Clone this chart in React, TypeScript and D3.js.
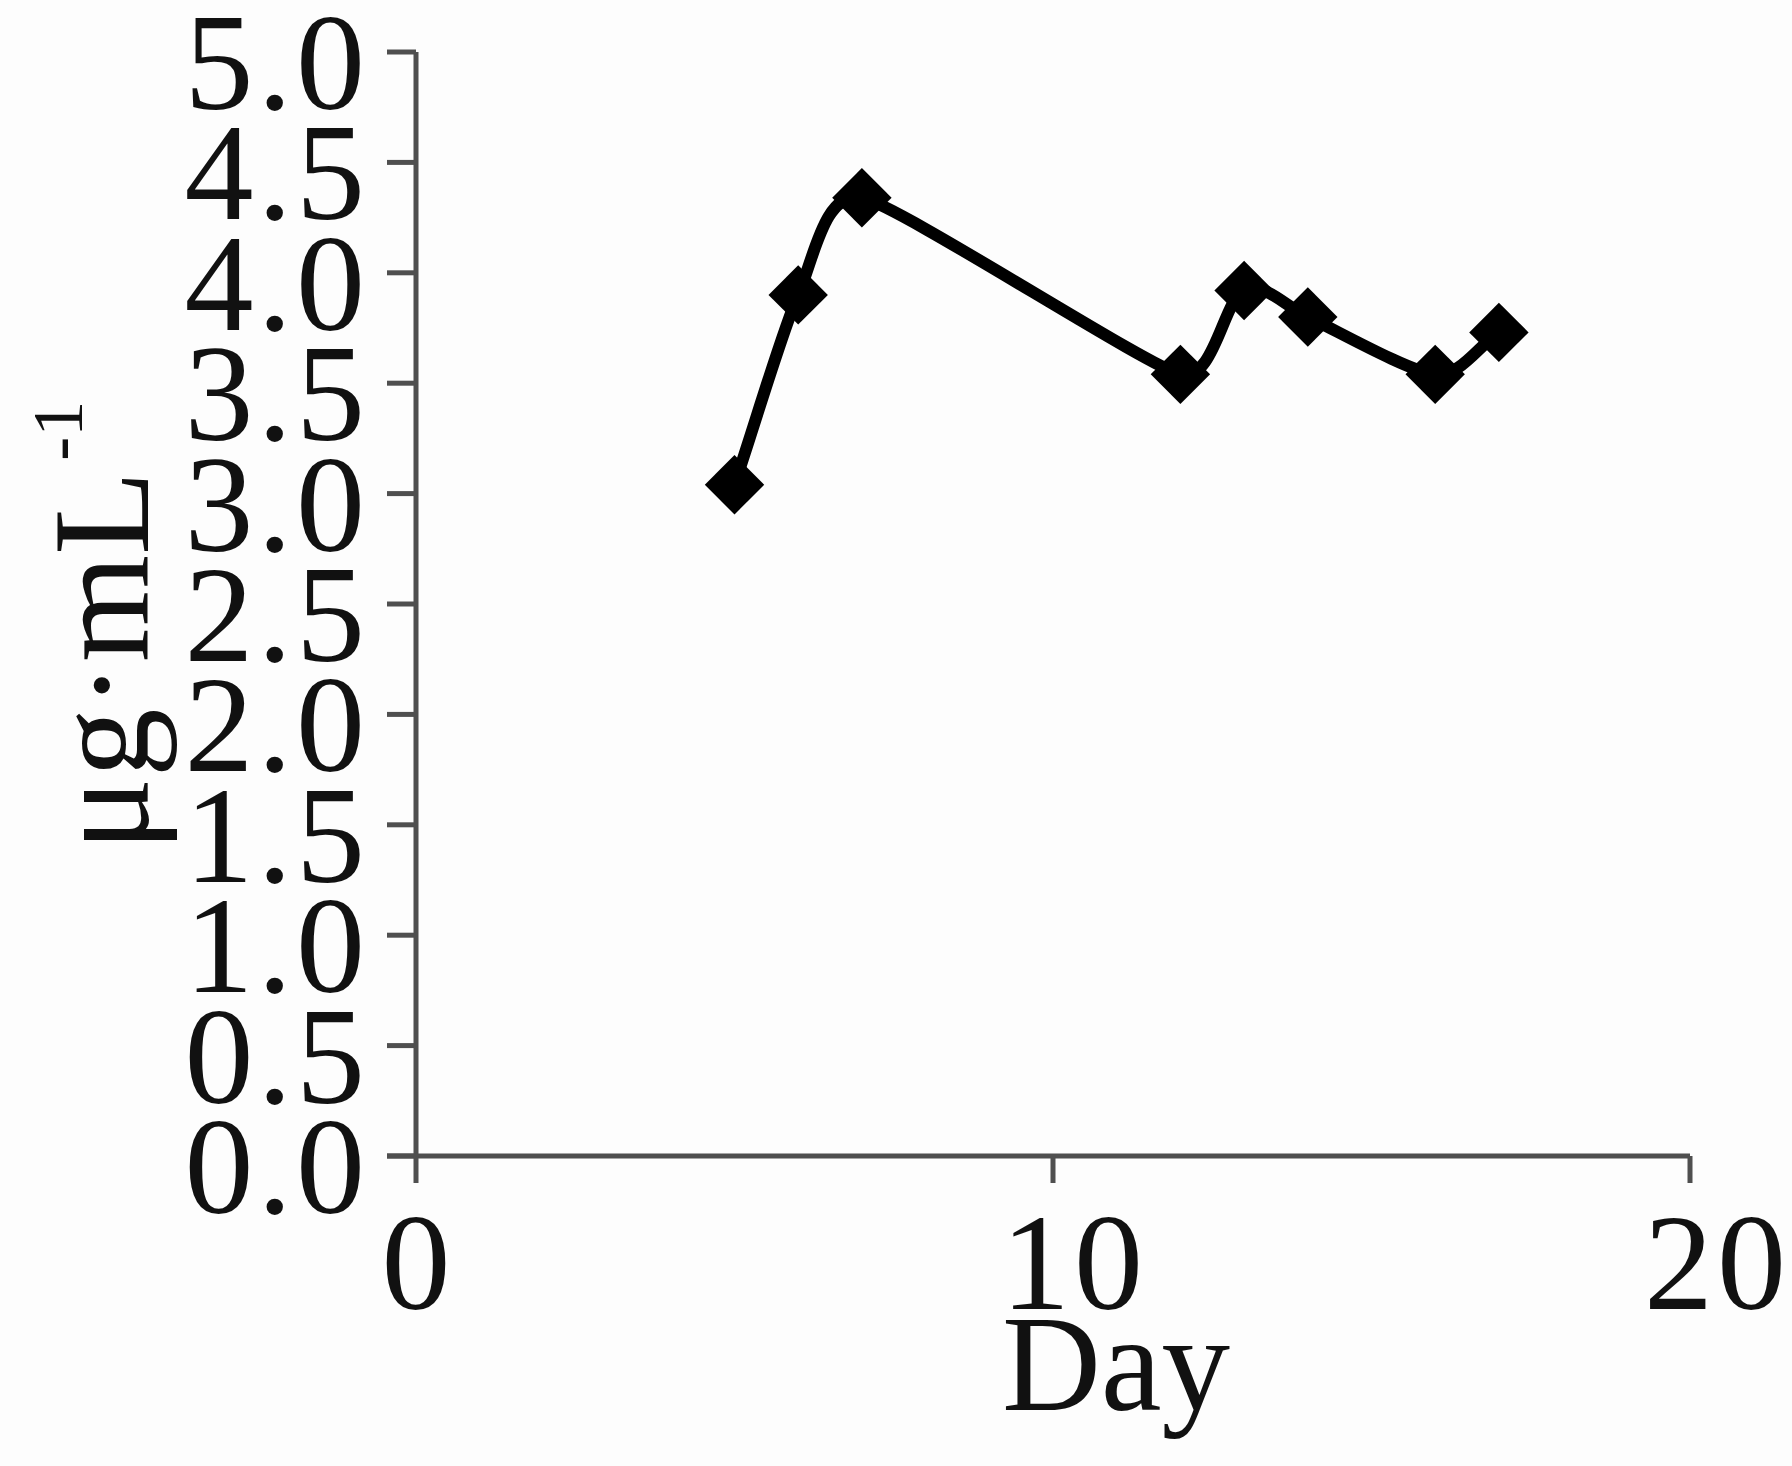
import React from "react";
import * as d3 from "d3";

const days = [5, 6, 7, 12, 13, 14, 16, 17];
const values = [3.04, 3.9, 4.34, 3.54, 3.92, 3.8, 3.54, 3.73];
const yTicks = [0, 0.5, 1, 1.5, 2, 2.5, 3, 3.5, 4, 4.5, 5];
const xTicks = [0, 10, 20];
const xLabelShift = [0, 19, 25];

const W = 1792;
const H = 1466;
const FONT = '"Liberation Serif"';

// Excel-like smoothed line: tangent along neighbours, length limited by the shorter adjacent segment
function smoothPath(pts: [number, number][]): string {
  const p = d3.path();
  const n = pts.length;
  const tang = (i: number): [number, number, number] => {
    const a = pts[Math.max(0, i - 1)];
    const b = pts[Math.min(n - 1, i + 1)];
    const dx = b[0] - a[0];
    const dy = b[1] - a[1];
    const len = Math.hypot(dx, dy) || 1;
    const l1 = i > 0 ? Math.hypot(pts[i][0] - pts[i - 1][0], pts[i][1] - pts[i - 1][1]) : Infinity;
    const l2 = i < n - 1 ? Math.hypot(pts[i + 1][0] - pts[i][0], pts[i + 1][1] - pts[i][1]) : Infinity;
    const s = Math.min(l1, l2) / 3;
    return [dx / len, dy / len, s];
  };
  p.moveTo(pts[0][0], pts[0][1]);
  for (let i = 0; i < n - 1; i++) {
    const [ux0, uy0, s0] = tang(i);
    const [ux1, uy1, s1] = tang(i + 1);
    p.bezierCurveTo(
      pts[i][0] + ux0 * s0,
      pts[i][1] + uy0 * s0,
      pts[i + 1][0] - ux1 * s1,
      pts[i + 1][1] - uy1 * s1,
      pts[i + 1][0],
      pts[i + 1][1]
    );
  }
  return p.toString();
}

export default function App() {
  const x = d3.scaleLinear().domain([0, 20]).range([416, 1690]);
  const y = d3.scaleLinear().domain([0, 5]).range([1156, 52]);
  const pts: [number, number][] = values.map((v, i) => [x(days[i]), y(v)]);
  const diamond = d3.symbol().type(d3.symbolSquare).size(42 * 42)();
  const axisColor = "#4f4f4f";
  const textStyle = { fontFamily: FONT, fontSize: 138, letterSpacing: 4 } as React.CSSProperties;

  return (
    <svg
      width={W}
      height={H}
      style={{ position: "absolute", left: 0, top: 0, background: "#fdfdfd" }}
    >
      <rect x={0} y={0} width={W} height={H} fill="#fdfdfd" />
      {/* y axis */}
      <line x1={x(0)} x2={x(0)} y1={y(5)} y2={y(0)} stroke={axisColor} strokeWidth={5} />
      {yTicks.map((t) => (
        <g key={t}>
          <line x1={x(0) - 29} x2={x(0)} y1={y(t)} y2={y(t)} stroke={axisColor} strokeWidth={5} />
          <text x={369} y={y(t) + 57} textAnchor="end" style={textStyle} fill="#111">
            {t.toFixed(1)}
          </text>
        </g>
      ))}
      {/* x axis */}
      <line x1={x(0) - 29} x2={x(20)} y1={y(0)} y2={y(0)} stroke={axisColor} strokeWidth={5} />
      {xTicks.map((t, i) => (
        <g key={t}>
          <line x1={x(t)} x2={x(t)} y1={y(0)} y2={y(0) + 27} stroke={axisColor} strokeWidth={5} />
          <text
            x={x(t) + xLabelShift[i] + 2}
            y={1309}
            textAnchor="middle"
            style={textStyle}
            fill="#111"
          >
            {t}
          </text>
        </g>
      ))}
      <text x={1116} y={1410} textAnchor="middle" style={{ fontFamily: FONT, fontSize: 137 }} fill="#111">
        Day
      </text>
      <text
        transform="translate(148,626) rotate(-90)"
        textAnchor="middle"
        style={{ fontFamily: FONT, fontSize: 138 }}
        fill="#111"
      >
        μg·mL
        <tspan style={{ fontSize: 72 }} dy={-66} dx={10}>-1</tspan>
      </text>
      {/* series */}
      <path d={smoothPath(pts)} fill="none" stroke="#000" strokeWidth={12} strokeLinejoin="round" />
      {values.map((v, i) => (
        <path
          key={i}
          d={diamond || ""}
          transform={`translate(${x(days[i])},${y(v)}) rotate(45)`}
          fill="#000"
        />
      ))}
    </svg>
  );
}
